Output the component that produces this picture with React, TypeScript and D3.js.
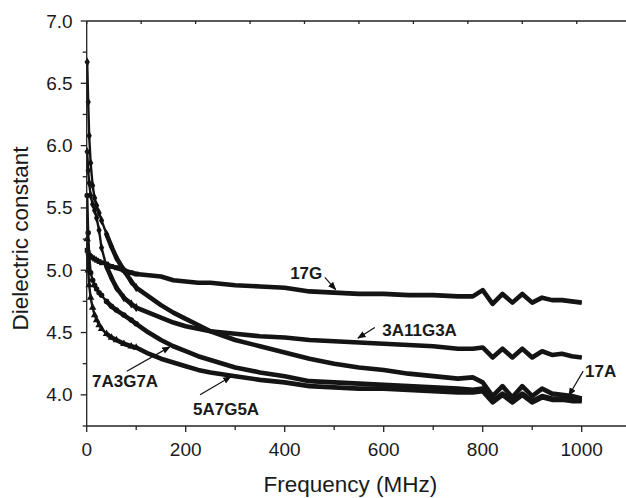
import React from "react";
import * as d3 from "d3";

// frequency (MHz) sample positions
const freq = [1, 3, 5, 8, 12, 16, 20, 25, 30, 40, 50, 60, 75, 90, 100, 125, 150, 175, 200, 225, 250, 300, 350, 400, 450, 500, 550, 600, 650, 700, 750, 780, 800, 820, 840, 860, 880, 900, 920, 940, 960, 980, 1000];

const s17G = [5.16, 5.14, 5.12, 5.11, 5.10, 5.09, 5.08, 5.07, 5.06, 5.05, 5.03, 5.02, 5.00, 4.98, 4.97, 4.96, 4.95, 4.92, 4.91, 4.90, 4.90, 4.88, 4.87, 4.86, 4.83, 4.82, 4.81, 4.81, 4.80, 4.80, 4.79, 4.79, 4.84, 4.73, 4.81, 4.74, 4.81, 4.74, 4.78, 4.76, 4.76, 4.75, 4.74];
const s17A = [6.67, 6.35, 6.08, 5.86, 5.68, 5.58, 5.52, 5.46, 5.40, 5.29, 5.19, 5.10, 5.00, 4.91, 4.86, 4.79, 4.72, 4.66, 4.61, 4.56, 4.51, 4.44, 4.39, 4.34, 4.29, 4.25, 4.22, 4.20, 4.17, 4.15, 4.13, 4.14, 4.10, 3.99, 4.07, 3.98, 4.07, 3.99, 4.05, 4.01, 4.00, 3.99, 3.97];
const s3A11G3A = [5.95, 5.80, 5.70, 5.60, 5.53, 5.48, 5.42, 5.32, 5.18, 5.03, 4.94, 4.86, 4.78, 4.73, 4.70, 4.66, 4.62, 4.58, 4.55, 4.53, 4.51, 4.49, 4.47, 4.46, 4.44, 4.43, 4.42, 4.41, 4.40, 4.39, 4.37, 4.37, 4.38, 4.30, 4.37, 4.30, 4.37, 4.30, 4.35, 4.32, 4.33, 4.31, 4.30];
const s7A3G7A = [5.60, 5.30, 5.12, 4.98, 4.92, 4.88, 4.85, 4.82, 4.80, 4.75, 4.71, 4.68, 4.64, 4.60, 4.57, 4.50, 4.44, 4.39, 4.35, 4.31, 4.28, 4.22, 4.18, 4.15, 4.11, 4.10, 4.09, 4.08, 4.07, 4.06, 4.05, 4.04, 4.05, 3.95, 4.01, 3.95, 4.01, 3.95, 3.99, 3.97, 3.97, 3.96, 3.96];
const s5A7G5A = [5.25, 5.00, 4.88, 4.78, 4.70, 4.64, 4.60, 4.56, 4.53, 4.49, 4.46, 4.44, 4.41, 4.39, 4.38, 4.33, 4.29, 4.26, 4.23, 4.20, 4.18, 4.15, 4.12, 4.10, 4.07, 4.06, 4.05, 4.05, 4.04, 4.03, 4.02, 4.02, 4.03, 3.94, 4.00, 3.94, 4.00, 3.94, 3.98, 3.96, 3.96, 3.95, 3.95];

const seriesNames = ["17G", "3A11G3A", "17A", "7A3G7A", "5A7G5A"];
const seriesValues = [s17G, s3A11G3A, s17A, s7A3G7A, s5A7G5A];
const seriesSymbols = [d3.symbolSquare, d3.symbolDiamond, d3.symbolDiamond, d3.symbolCircle, d3.symbolTriangle];

const xTicks = [0, 200, 400, 600, 800, 1000];
const xMinor = [100, 300, 500, 700, 900, 1100];
const yTicks = [4.0, 4.5, 5.0, 5.5, 6.0, 6.5, 7.0];

// annotation: label position and arrow tail -> tip, in data units
const labels = ["17G", "3A11G3A", "7A3G7A", "5A7G5A", "17A"];
const labelPos = [[411, 4.926], [597, 4.476], [10.7, 4.06], [214.7, 3.84], [1006.7, 4.14]];
const arrowFrom = [[481, 4.942], [582, 4.54], [81, 4.19], [229, 4.0], [1003, 4.19]];
const arrowTo = [[503, 4.845], [548, 4.455], [168, 4.385], [291, 4.145], [974, 3.995]];

const W = 626, H = 498;
const margin = {top: 21, left: 86.7, bottom: 72};
const font = "'Liberation Sans', Arial, Helvetica, sans-serif";

export default function App() {
  const x = d3.scaleLinear().domain([0, 1100]).range([margin.left, margin.left + 1100 * 0.495]);
  const y = d3.scaleLinear().domain([3.75, 7.0]).range([H - margin.bottom, margin.top]);
  const x0 = x(0), yB = y(3.75), yT = y(7.0);

  const line = d3.line<number>()
      .x((d, i) => x(freq[i]))
      .y(d => y(d));
  // thick band only where the dense markers pile up
  const bandLine = d3.line<number>()
      .defined((d, i) => freq[i] >= 40)
      .x((d, i) => x(freq[i]))
      .y(d => y(d));

  const yAll = d3.range(3.75, 7.01, 0.25);
  const topTicks = d3.range(0, 1101, 110);

  return (
    <svg width={W} height={H} style={{position: "absolute", left: 0, top: 0, background: "#fff"}}
         fontFamily={font}>
      <defs>
        <marker id="ah" viewBox="0 0 10 10" refX="9" refY="5" markerWidth="7" markerHeight="7" orient="auto">
          <path d="M0,1 L10,5 L0,9 z" fill="#111"/>
        </marker>
      </defs>

      {/* series */}
      {seriesValues.map((vals, k) => (
        <g key={seriesNames[k]}>
          <path d={line(vals) || ""} fill="none" stroke="#141414" strokeWidth={2.4} strokeLinejoin="round"/>
          <path d={bandLine(vals) || ""} fill="none" stroke="#141414" strokeWidth={4.6} strokeLinejoin="round"/>
          {vals.slice(0, 15).map((v, i) => (
            <path key={i} d={d3.symbol(seriesSymbols[k], 24)() || ""}
                  transform={`translate(${x(freq[i])},${y(v)})`} fill="#111"/>
          ))}
        </g>
      ))}

      {/* axes */}
      <g stroke="#222" strokeWidth={1.3} fill="none">
        <line x1={x0} x2={W} y1={yB} y2={yB}/>
        <line x1={x0} x2={W} y1={yT} y2={yT}/>
        <line x1={x0} x2={x0} y1={yT} y2={yB}/>
        {xTicks.map(t => <line key={"xm" + t} x1={x(t)} x2={x(t)} y1={yB} y2={yB + 6}/>)}
        {xMinor.map(t => <line key={"xn" + t} x1={x(t)} x2={x(t)} y1={yB} y2={yB + 4}/>)}
        {topTicks.map(t => <line key={"tt" + t} x1={x(t)} x2={x(t)} y1={yT} y2={yT + 3}/>)}
        {yAll.map(t => <line key={"y" + t} x1={x0} x2={x0 - (Math.abs(t * 2 - Math.round(t * 2)) < 0.01 ? 6 : 4)} y1={y(t)} y2={y(t)}/>)}
      </g>

      <g fontSize={19} fill="#1a1a1a">
        {xTicks.map(t => (
          <text key={"xl" + t} x={x(t)} y={yB + 30} textAnchor="middle">{t}</text>
        ))}
        {yTicks.map(t => (
          <text key={"yl" + t} x={x0 - 14} y={y(t) + 6.5} textAnchor="end">{t.toFixed(1)}</text>
        ))}
      </g>

      <text x={(x0 + 618) / 2 - 2} y={492} textAnchor="middle" fontSize={22.5} fill="#1a1a1a">Frequency (MHz)</text>
      <text transform={`translate(28,${(yT + yB) / 2 + 15}) rotate(-90)`} textAnchor="middle" fontSize={22.5}
            fill="#1a1a1a">Dielectric constant</text>

      {/* annotations */}
      {labels.map((l, i) => (
        <g key={l}>
          <line x1={x(arrowFrom[i][0])} y1={y(arrowFrom[i][1])} x2={x(arrowTo[i][0])} y2={y(arrowTo[i][1])}
                stroke="#111" strokeWidth={1.2} markerEnd="url(#ah)"/>
          <text x={x(labelPos[i][0])} y={y(labelPos[i][1])} fontSize={17} fontWeight="bold" fill="#1a1a1a">{l}</text>
        </g>
      ))}
    </svg>
  );
}
